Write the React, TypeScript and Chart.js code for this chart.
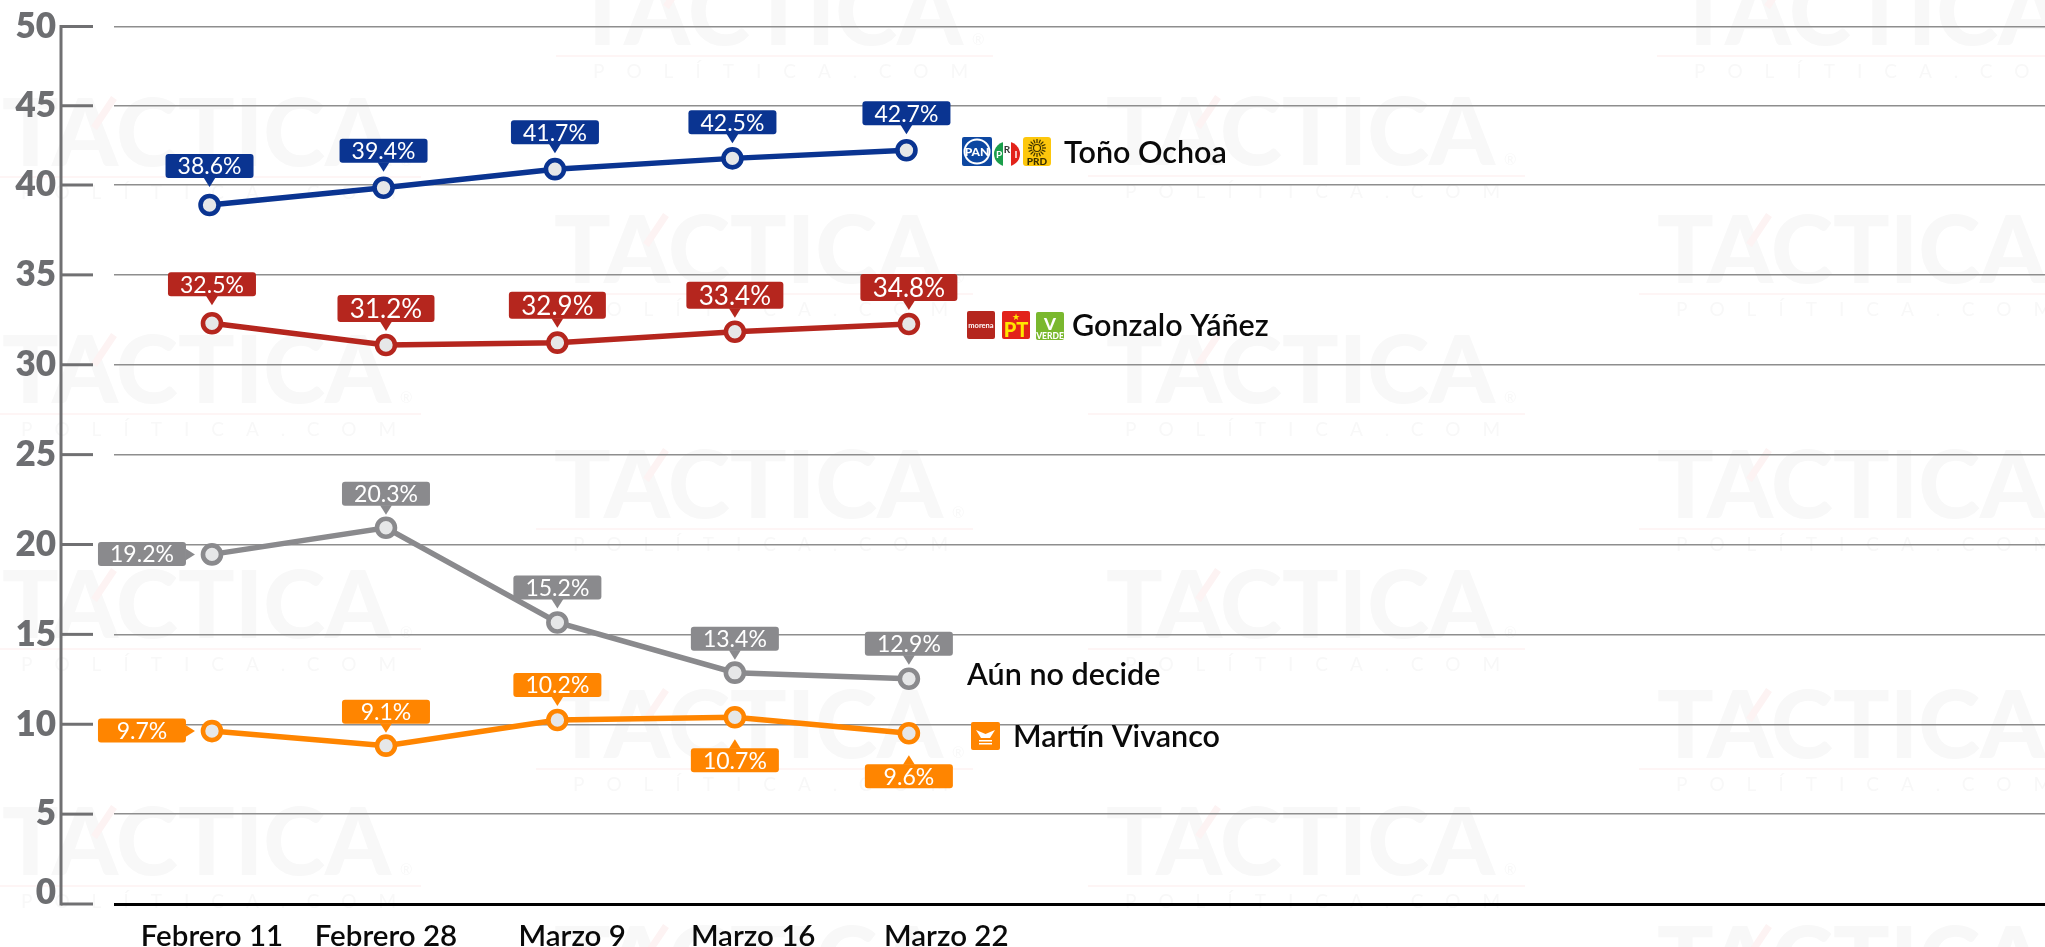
import React, { useEffect, useRef } from "react";
import { Chart, registerables, LinearScale, LineController } from "chart.js";

const categories = ["Febrero 11", "Febrero 28", "Marzo 9", "Marzo 16", "Marzo 22"];
const surveyPositions = [0, 1, 1.985, 3.005, 4.005];
const labelPositions = [0, 1, 2.07, 3.11, 4.22];
const yTicks = [0, 5, 10, 15, 20, 25, 30, 35, 40, 45, 50];

const ochoaValues = [38.89, 39.85, 41.0, 41.68, 42.19];
const yanezValues = [32.31, 31.1, 31.23, 31.84, 32.27];
const undecidedValues = [19.45, 20.93, 15.66, 12.87, 12.53];
const vivancoValues = [9.62, 8.81, 10.24, 10.39, 9.5];

const ochoaLabels = ["38.6%", "39.4%", "41.7%", "42.5%", "42.7%"];
const yanezLabels = ["32.5%", "31.2%", "32.9%", "33.4%", "34.8%"];
const undecidedLabels = ["19.2%", "20.3%", "15.2%", "13.4%", "12.9%"];
const vivancoLabels = ["9.7%", "9.1%", "10.2%", "10.7%", "9.6%"];

const BLUE = "#0a3491";
const RED = "#b5261e";
const GREY = "#8a8a8d";
const ORANGE = "#ff8500";
const FONT = "Lato";

type Bubble = { side: string; gap: number; w: number; h: number; size: number };
const top = (gap: number, w = 88, h = 24, size = 23): Bubble => ({ side: "top", gap, w, h, size });
const series = [
  { name: "Toño Ochoa", color: BLUE, values: ochoaValues, labels: ochoaLabels, shift: -0.014,
    bubbles: [top(18), top(16), top(16), top(15), top(16)] },
  { name: "Gonzalo Yáñez", color: RED, values: yanezValues, labels: yanezLabels, shift: 0,
    bubbles: [top(18), top(14, 97, 27, 26), top(15, 97, 27, 26), top(14, 97, 27, 26), top(14, 97, 27, 26)] },
  { name: "Aún no decide", color: GREY, values: undecidedValues, labels: undecidedLabels, shift: 0,
    bubbles: [{ side: "left", gap: 17, w: 88, h: 24, size: 23 }, top(13), top(14), top(13), top(14)] },
  { name: "Martín Vivanco", color: ORANGE, values: vivancoValues, labels: vivancoLabels, shift: 0,
    bubbles: [{ side: "left", gap: 17, w: 88, h: 24, size: 23 }, top(13), top(14),
      { side: "bottom", gap: 22, w: 88, h: 24, size: 23 }, { side: "bottom", gap: 22, w: 88, h: 24, size: 23 }] },
];

// The reference's axis is compressed above 40.
class PiecewiseScale extends (LinearScale as any) {
  static id = "piecewise";
  static defaults = {};
  getPixelForValue(v: number) {
    const b = this.bottom, t = this.top;
    const break40 = b - (b - t) * (719 / 877.5);
    if (v <= 40) return b - ((b - break40) * v) / 40;
    return break40 - ((break40 - t) * (v - 40)) / 10;
  }
  getValueForPixel(p: number) {
    const b = this.bottom, t = this.top;
    const break40 = b - (b - t) * (719 / 877.5);
    if (p >= break40) return ((b - p) / (b - break40)) * 40;
    return 40 + ((break40 - p) / (break40 - t)) * 10;
  }
  _computeLabelItems(area: any) {
    const items = super._computeLabelItems(area);
    items.forEach((it: any) => {
      const [x, y] = it.options.translation;
      it.options.translation = [x - 58, it.label === "0" ? y - 11 : y];
    });
    return items;
  }
}

// Gridlines run right to the canvas edge, so the markers must not reserve layout room.
class FlushLine extends (LineController as any) {
  static id = "flushLine";
  static defaults = (LineController as any).defaults;
  getMaxOverflow() {
    return 0;
  }
}
Chart.register(...registerables, PiecewiseScale as any, FlushLine as any);

function rr(c: CanvasRenderingContext2D, x: number, y: number, w: number, h: number, r: number, fill: string) {
  c.beginPath();
  c.roundRect(x, y, w, h, r);
  c.fillStyle = fill;
  c.fill();
}
function txt(c: CanvasRenderingContext2D, s: string, x: number, y: number, font: string, fill: string, align: CanvasTextAlign = "left") {
  c.font = font;
  c.fillStyle = fill;
  c.textAlign = align;
  c.textBaseline = "alphabetic";
  c.fillText(s, x, y);
}

const watermarkAnchors = [
  [2, 98], [2, 335], [2, 570], [2, 807],
  [574, -23], [554, 215], [554, 450], [554, 690], [554, 926],
  [1106, 97], [1106, 335], [1106, 570], [1106, 807],
  [1675, -23], [1657, 215], [1657, 450], [1657, 690], [1657, 926],
];

const watermarkPlugin = {
  id: "watermark",
  beforeDraw(chart: any) {
    const c = chart.ctx;
    c.save();
    watermarkAnchors.forEach(([x, y]) => {
      txt(c, "TACTICA", x, y + 68, `900 94px ${FONT}`, "#f8f8f8");
      c.strokeStyle = "#fdf3f3";
      c.lineWidth = 7;
      c.beginPath();
      c.moveTo(x + 112, y);
      c.lineTo(x + 92, y + 30);
      c.stroke();
      c.fillStyle = "#fef5f5";
      c.fillRect(x - 18, y + 78, 437, 2);
      c.letterSpacing = "22px";
      txt(c, "POLÍTICA.COM", x + 19, y + 101, `400 19px ${FONT}`, "#f8f8f8");
      c.letterSpacing = "0px";
      txt(c, "®", x + 398, y + 68, `400 15px ${FONT}`, "#f8f8f8");
    });
    c.restore();
  },
};

const axisPlugin = {
  id: "leftAxis",
  afterDatasetsDraw(chart: any) {
    const c = chart.ctx, y = chart.scales.y;
    c.save();
    c.strokeStyle = "#707072";
    c.lineWidth = 3;
    c.beginPath();
    c.moveTo(61, y.getPixelForValue(50) - 1.5);
    c.lineTo(61, y.getPixelForValue(0) + 1.5);
    c.stroke();
    yTicks.forEach((v) => {
      const p = y.getPixelForValue(v);
      c.beginPath();
      c.moveTo(61, p);
      c.lineTo(93, p);
      c.stroke();
    });
    c.restore();
  },
};

const bubblePlugin = {
  id: "bubbles",
  afterDatasetsDraw(chart: any) {
    const c = chart.ctx;
    c.save();
    series.forEach((s, si) => {
      chart.getDatasetMeta(si).data.forEach((pt: any, i: number) => {
        const b = s.bubbles[i];
        let bx: number, by: number;
        c.fillStyle = s.color;
        c.beginPath();
        if (b.side === "top") {
          const tip = pt.y - b.gap;
          bx = pt.x - b.w / 2; by = tip - 9 - b.h;
          c.moveTo(pt.x - 6, tip - 9.5); c.lineTo(pt.x + 6, tip - 9.5); c.lineTo(pt.x, tip);
        } else if (b.side === "bottom") {
          const tip = pt.y + b.gap;
          bx = pt.x - b.w / 2; by = tip + 9;
          c.moveTo(pt.x - 6, tip + 9.5); c.lineTo(pt.x + 6, tip + 9.5); c.lineTo(pt.x, tip);
        } else {
          const tip = pt.x - b.gap;
          bx = tip - 9 - b.w; by = pt.y - b.h / 2 - 0.5;
          c.moveTo(tip - 9.5, pt.y - 6); c.lineTo(tip - 9.5, pt.y + 6); c.lineTo(tip, pt.y);
        }
        c.closePath();
        c.fill();
        rr(c, bx, by, b.w, b.h, 3, s.color);
        c.font = `400 ${b.size}px ${FONT}`;
        c.fillStyle = "#ffffff";
        c.textAlign = "center";
        c.textBaseline = "middle";
        c.fillText(s.labels[i], bx + b.w / 2, by + b.h / 2 + 1);
      });
    });
    c.restore();
  },
};

function drawLogos(c: CanvasRenderingContext2D) {
  // PAN
  rr(c, 962, 137, 30, 29, 2, "#0d47a1");
  c.strokeStyle = "#fff"; c.lineWidth = 2;
  c.beginPath(); c.ellipse(977, 151.5, 12.5, 12, 0, 0, Math.PI * 2); c.stroke();
  txt(c, "PAN", 977, 156, `900 12px "Liberation Sans Narrow", ${FONT}`, "#fff", "center");
  // PRI
  c.save();
  c.beginPath(); c.ellipse(1007, 154, 13, 12.5, 0, 0, Math.PI * 2); c.clip();
  c.fillStyle = "#1b9e4b"; c.fillRect(994, 141, 9, 26);
  c.fillStyle = "#fff"; c.fillRect(1003, 141, 8, 26);
  c.fillStyle = "#e2231a"; c.fillRect(1011, 141, 9, 26);
  c.restore();
  txt(c, "P", 999, 158, `700 10px ${FONT}`, "#fff", "center");
  txt(c, "R", 1007, 153, `700 10px ${FONT}`, "#333", "center");
  txt(c, "I", 1016, 158, `700 10px ${FONT}`, "#fff", "center");
  // PRD
  rr(c, 1023, 137, 28, 29, 3, "#fdc70c");
  c.strokeStyle = "#3a3000"; c.lineWidth = 1.2;
  for (let a = 0; a < 16; a++) {
    const t = (a * Math.PI) / 8;
    c.beginPath();
    c.moveTo(1037 + Math.cos(t) * 5, 148 + Math.sin(t) * 5);
    c.lineTo(1037 + Math.cos(t) * 9, 148 + Math.sin(t) * 9);
    c.stroke();
  }
  c.beginPath(); c.arc(1037, 148, 3.5, 0, Math.PI * 2); c.stroke();
  txt(c, "PRD", 1037, 165, `900 10px ${FONT}`, "#3a3000", "center");
  // morena
  rr(c, 967, 311, 28, 28, 2, "#b5261e");
  txt(c, "morena", 981, 328, `700 7.5px ${FONT}`, "#fff", "center");
  // PT
  rr(c, 1002, 311, 28, 28, 2, "#e2231a");
  txt(c, "PT", 1016, 337, `900 20px ${FONT}`, "#ffe600", "center");
  txt(c, "★", 1016, 320, `400 9px "DejaVu Sans"`, "#ffe600", "center");
  // Verde
  rr(c, 1036, 312, 28, 28, 2, "#7ab82e");
  txt(c, "V", 1050, 330, `900 17px ${FONT}`, "#fff", "center");
  txt(c, "VERDE", 1050, 339, `900 8.5px ${FONT}`, "#fff", "center");
  // Movimiento Ciudadano
  rr(c, 971, 722, 29, 28, 2, ORANGE);
  c.fillStyle = "#fff";
  c.beginPath();
  c.moveTo(976, 730); c.lineTo(985.5, 734); c.lineTo(995, 730); c.lineTo(990, 738); c.lineTo(981, 738);
  c.closePath(); c.fill();
  c.fillRect(979, 740, 13, 1.5);
  c.fillRect(979, 743, 13, 1.5);
}

const legendPlugin = {
  id: "names",
  afterDatasetsDraw(chart: any) {
    const c = chart.ctx;
    c.save();
    drawLogos(c);
    const f = `600 30.5px ${FONT}`;
    txt(c, series[0].name, 1064, 163, f, "#0a0a0a");
    txt(c, series[1].name, 1072, 336, f, "#0a0a0a");
    txt(c, series[2].name, 967, 685, f, "#0a0a0a");
    txt(c, series[3].name, 1013, 747, f, "#0a0a0a");
    c.restore();
  },
};

export default function App() {
  const ref = useRef<HTMLCanvasElement>(null);
  useEffect(() => {
    document.body.style.margin = "0";
    const chart = new Chart(ref.current as any, {
      type: "line",
      data: {
        datasets: series.map((s) => ({
          type: "flushLine",
          label: s.name,
          data: s.values.map((v, i) => ({ x: surveyPositions[i] + s.shift, y: v })),
          borderColor: s.color,
          borderWidth: 5.5,
          tension: 0,
          fill: false,
          pointRadius: 9,
          pointBorderWidth: 4.6,
          pointBackgroundColor: "#e6e7e8",
          pointBorderColor: s.color,
        })),
      },
      options: {
        animation: false,
        responsive: false,
        events: [],
        layout: { padding: { top: 26.5, left: 0, right: 0, bottom: 0 } },
        plugins: { legend: { display: false }, tooltip: { enabled: false }, title: { display: false } },
        scales: {
          x: {
            type: "linear",
            min: -0.563,
            max: 10.534,
            grid: { display: false, drawTicks: false },
            border: { display: false },
            afterBuildTicks: (s: any) => { s.ticks = labelPositions.map((value) => ({ value })); },
            afterFit: (s: any) => { s.height = 43; s.paddingRight = 0; s.paddingLeft = 0; },
            ticks: {
              autoSkip: false,
              maxRotation: 0,
              padding: 15,
              color: "#0a0a0a",
              font: { family: FONT, size: 29.5, weight: "600" },
              callback: (_v: any, i: number) => categories[i],
            },
          },
          y: {
            type: "piecewise",
            min: 0,
            max: 50,
            afterBuildTicks: (s: any) => { s.ticks = yTicks.map((value) => ({ value })); },
            afterFit: (s: any) => { s.width = 114; },
            grid: {
              drawTicks: false,
              color: (ctx: any) => (ctx.tick.value === 0 ? "#000000" : "#8e8e8e"),
              lineWidth: (ctx: any) => (ctx.tick.value === 0 ? 3 : 1.5),
            },
            border: { display: false },
            ticks: {
              padding: 0,
              color: "#6d6e71",
              font: { family: FONT, size: 35, weight: "800" },
              callback: (v: any) => String(v),
            },
          },
        },
      } as any,
      plugins: [watermarkPlugin, axisPlugin, bubblePlugin, legendPlugin],
    } as any);
    return () => chart.destroy();
  }, []);
  return <canvas ref={ref} width={2045} height={947} style={{ display: "block" }} />;
}
